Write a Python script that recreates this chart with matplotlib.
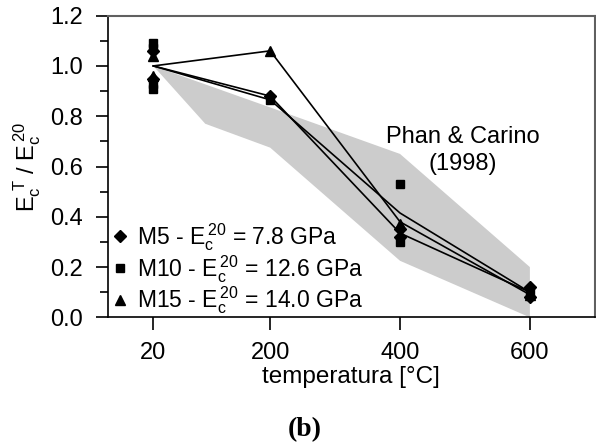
import matplotlib
matplotlib.use("Agg")
import matplotlib.pyplot as plt
from matplotlib.ticker import MultipleLocator, FormatStrFormatter

plt.rcParams['font.family'] = ['Liberation Sans', 'DejaVu Sans']
plt.rcParams['mathtext.default'] = 'regular'

# temperatures [°C]
temps = [20, 200, 400, 600]

# mean curves (normalised by the 20 °C value)
m5_mean = [1.0, 0.88, 0.335, 0.10]
m10_mean = [1.0, 0.865, 0.415, 0.10]
m15_mean = [1.0, 1.06, 0.38, 0.09]

# individual specimens
m5_T = [20, 20, 200, 400, 400, 600, 600]
m5_v = [1.06, 0.95, 0.88, 0.35, 0.32, 0.12, 0.08]
m10_T = [20, 20, 20, 20, 200, 400, 400, 600]
m10_v = [1.09, 1.07, 0.93, 0.91, 0.865, 0.53, 0.30, 0.10]
m15_T = [20, 20, 200, 400, 600]
m15_v = [1.04, 0.96, 1.06, 0.37, 0.09]

# Phan & Carino (1998) band
band_upper_T = [20, 200, 400, 600]
band_upper_v = [1.0, 0.835, 0.65, 0.20]
band_lower_T = [20, 100, 200, 400, 600]
band_lower_v = [1.0, 0.77, 0.675, 0.225, 0.0]

fig = plt.figure(figsize=(5.96, 4.47), dpi=100)
ax = fig.add_axes([0.181, 0.290, 0.817, 0.675])

poly_T = band_upper_T + band_lower_T[::-1]
poly_v = band_upper_v + band_lower_v[::-1]
ax.fill(poly_T, poly_v, color='#cccccc', lw=0, zorder=1)

for mean in (m5_mean, m10_mean, m15_mean):
    ax.plot(temps, mean, color='black', lw=1.2, zorder=3)

ax.plot(m5_T, m5_v, 'D', color='black', ms=6.5, ls='none', zorder=4,
        label=r'M5 - E$_c^{\,20}$ = 7.8 GPa')
ax.plot(m10_T, m10_v, 's', color='black', ms=6, ls='none', zorder=4,
        label=r'M10 - E$_c^{\,20}$ = 12.6 GPa')
ax.plot(m15_T, m15_v, '^', color='black', ms=7, ls='none', zorder=4,
        label=r'M15 - E$_c^{\,20}$ = 14.0 GPa')

ax.text(497, 0.665, 'Phan & Carino\n(1998)', ha='center', va='center',
        fontsize=17, linespacing=1.3)

ax.set_xlim(-50, 700)
ax.set_ylim(0, 1.2)
ax.set_xticks(temps)
ax.yaxis.set_major_locator(MultipleLocator(0.2))
ax.yaxis.set_minor_locator(MultipleLocator(0.1))
ax.yaxis.set_major_formatter(FormatStrFormatter('%.1f'))
ax.tick_params(axis='both', which='major', direction='out', length=9,
               width=1.2, labelsize=17)
ax.tick_params(axis='y', which='minor', direction='out', length=6, width=1.2)
ax.tick_params(axis='x', pad=9)
ax.tick_params(axis='y', pad=9)

for side in ('left', 'bottom'):
    ax.spines[side].set_color('black')
    ax.spines[side].set_linewidth(1.2)
for side in ('top', 'right'):
    ax.spines[side].set_color('#606060')
    ax.spines[side].set_linewidth(1.5)

ax.set_xlabel('temperatura [°C]', fontsize=17.5, labelpad=1)
ax.set_ylabel(r'E$_c^{\ T}$ / E$_c^{\,20}$', fontsize=17, labelpad=5)

ax.legend(loc='lower left', frameon=False, fontsize=16.5, handletextpad=0.2,
          handlelength=1.0, borderaxespad=0.0, labelspacing=0.0,
          borderpad=0.05, bbox_to_anchor=(0.0, 0.0))

fig.text(0.512, 0.040, '(b)', ha='center', va='center', fontsize=20,
         fontweight='bold', family='Liberation Serif')

fig.savefig('out.png', dpi=100)
